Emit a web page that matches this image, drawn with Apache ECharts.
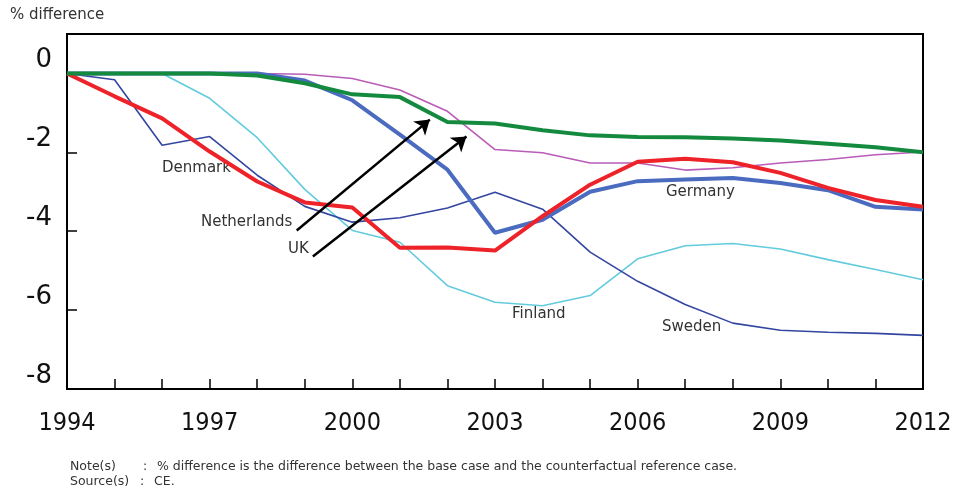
<!DOCTYPE html>
<html>
<head>
<meta charset="utf-8">
<script src="https://cdn.jsdelivr.net/npm/echarts@6/dist/echarts.min.js"></script>
<style>
  html, body { margin: 0; padding: 0; background: #fff; }
  #main { width: 964px; height: 497px; }
</style>
</head>
<body>
<div id="main"></div>
<script>
// values, % difference per year
var years = [1994, 1995, 1996, 1997, 1998, 1999, 2000, 2001, 2002, 2003, 2004, 2005, 2006, 2007, 2008, 2009, 2010, 2011, 2012];
var denmark = [0, -0.58, -1.14, -1.98, -2.74, -3.27, -3.4, -4.42, -4.41, -4.49, -3.62, -2.82, -2.24, -2.16, -2.25, -2.52, -2.9, -3.21, -3.38];
var germany = [0, 0, 0, 0, 0, -0.18, -0.68, -1.55, -2.44, -4.04, -3.71, -3.0, -2.73, -2.69, -2.65, -2.78, -2.96, -3.38, -3.45];
var sweden = [0, -0.16, -1.82, -1.6, -2.58, -3.37, -3.77, -3.66, -3.41, -3.01, -3.44, -4.53, -5.27, -5.86, -6.33, -6.51, -6.56, -6.59, -6.64];
var finland = [0, 0, 0, -0.63, -1.63, -2.94, -3.98, -4.28, -5.38, -5.8, -5.89, -5.63, -4.7, -4.37, -4.31, -4.45, -4.72, -4.97, -5.23];
var netherlands = [0, 0, 0, 0, -0.05, -0.25, -0.53, -0.6, -1.23, -1.27, -1.44, -1.57, -1.61, -1.62, -1.65, -1.7, -1.78, -1.87, -2.0];
var uk = [0, 0, 0, 0, 0, -0.02, -0.13, -0.42, -0.96, -1.93, -2.01, -2.27, -2.27, -2.45, -2.39, -2.27, -2.18, -2.06, -1.99];
var labelYears = [1994, 1997, 2000, 2003, 2006, 2009, 2012];

function pairs(vals) {
  return years.map(function (y, i) { return [y, vals[i]]; });
}

function line(name, vals, color, width) {
  return {
    name: name,
    type: 'line',
    data: pairs(vals),
    symbol: 'none',
    lineStyle: { color: color, width: width },
    itemStyle: { color: color }
  };
}

var chartDom = document.getElementById('main');
var myChart = echarts.init(chartDom);

var txt = { fontFamily: 'DejaVu Sans', fontSize: 15, fill: '#333' };
var note = { fontFamily: 'DejaVu Sans', fontSize: 12.5, fill: '#333', textVerticalAlign: 'middle' };
var narrow = "'DejaVu Sans Condensed', 'Liberation Sans', sans-serif";

var netherlandsSeries = line('Netherlands', netherlands, '#138a3e', 4);
netherlandsSeries.markLine = {
  silent: true,
  symbolSize: 14,
  label: { show: false },
  lineStyle: { color: '#000', width: 2.5, type: 'solid' },
  data: [
    [{ coord: [1998.83, -3.98], symbol: 'none' }, { coord: [2001.63, -1.17], symbol: 'arrow' }],
    [{ coord: [1999.17, -4.64], symbol: 'none' }, { coord: [2002.4, -1.6], symbol: 'arrow' }]
  ]
};

var option = {
  animation: false,
  grid: {
    left: 67, right: 41, top: 34, bottom: 108,
    show: true, borderColor: '#000', borderWidth: 2
  },
  xAxis: {
    type: 'value',
    min: 1994, max: 2012, interval: 1,
    axisLine: { onZero: false, lineStyle: { color: '#000', width: 2 } },
    axisTick: { inside: true, length: 10, lineStyle: { color: '#000', width: 1.5 } },
    splitLine: { show: false },
    axisLabel: {
      margin: 22,
      color: '#111',
      fontSize: 25,
      fontFamily: narrow,
      formatter: function (v) { return labelYears.indexOf(v) >= 0 ? String(v) : ''; }
    }
  },
  yAxis: {
    type: 'value',
    min: -8, max: 1, interval: 2,
    axisLine: { lineStyle: { color: '#000', width: 2 } },
    axisTick: { inside: true, length: 10, lineStyle: { color: '#000', width: 1.5 } },
    splitLine: { show: false },
    axisLabel: {
      margin: 15,
      color: '#111',
      fontSize: 26,
      fontFamily: 'DejaVu Sans',
      verticalAlign: 'bottom',
      formatter: function (v) { return v > 0 ? '' : String(v); }
    }
  },
  series: [
    line('Finland', finland, '#63cbde', 1.6),
    line('Sweden', sweden, '#3346a0', 1.6),
    line('UK', uk, '#b95cb8', 1.6),
    line('Germany', germany, '#4a6bbf', 4),
    line('Denmark', denmark, '#ee2229', 4),
    netherlandsSeries
  ],
  graphic: [
    { type: 'text', left: 10, top: 8, style: { text: '% difference', font: '15px "DejaVu Sans"', fill: '#333' } },
    { type: 'text', x: 162, y: 161, style: Object.assign({ text: 'Denmark' }, txt) },
    { type: 'text', x: 201, y: 215, style: Object.assign({ text: 'Netherlands' }, txt) },
    { type: 'text', x: 288, y: 242, style: Object.assign({ text: 'UK' }, txt) },
    { type: 'text', x: 512, y: 307, style: Object.assign({ text: 'Finland' }, txt) },
    { type: 'text', x: 666, y: 185, style: Object.assign({ text: 'Germany' }, txt) },
    { type: 'text', x: 662, y: 320, style: Object.assign({ text: 'Sweden' }, txt) },
    { type: 'text', x: 70, y: 467, style: Object.assign({ text: 'Note(s)' }, note) },
    { type: 'text', x: 143, y: 467, style: Object.assign({ text: ':' }, note) },
    { type: 'text', x: 157, y: 467, style: Object.assign({ text: '% difference is the difference between the base case and the counterfactual reference case.' }, note) },
    { type: 'text', x: 70, y: 482, style: Object.assign({ text: 'Source(s)' }, note) },
    { type: 'text', x: 140, y: 482, style: Object.assign({ text: ':' }, note) },
    { type: 'text', x: 154, y: 482, style: Object.assign({ text: 'CE.' }, note) }
  ]
};

option && myChart.setOption(option);
</script>
</body>
</html>
